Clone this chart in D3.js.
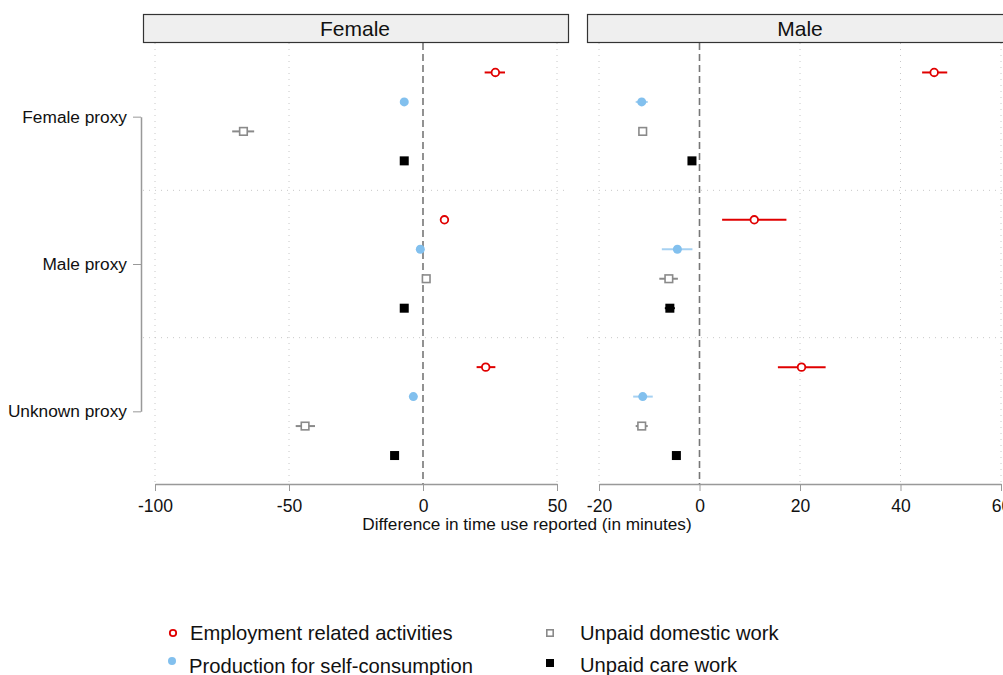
<!DOCTYPE html>
<html><head><meta charset="utf-8">
<script src="https://cdn.jsdelivr.net/npm/d3@7"></script>
<style>body{margin:0;background:#fff}svg{display:block;font-family:"Liberation Sans",Arial,sans-serif}</style>
</head><body><svg id="c" width="1003" height="675"></svg>
<script>
const panels = ["Female", "Male"];
const groups = ["Female proxy", "Male proxy", "Unknown proxy"];
const series = ["Employment related activities", "Production for self-consumption", "Unpaid domestic work", "Unpaid care work"];
const femaleTicks = [-100, -50, 0, 50];
const maleTicks = [-20, 0, 20, 40, 60];
// [estimate, lower, upper] per group, per series
const femaleValues = [
  [[27, 23, 30.6], [-7, -8.3, -5.7], [-67, -71.2, -63], [-7, -8.3, -5.7]],
  [[8, 6.6, 9.4], [-1, -1.6, -0.4], [1.2, 0.2, 2.2], [-7, -7.2, -6.8]],
  [[23.4, 20, 27], [-3.6, -4.6, -2.6], [-44, -47.5, -40.3], [-10.6, -11.6, -9.6]]
];
const maleValues = [
  [[46.7, 44.3, 49.3], [-11.5, -12.7, -10.3], [-11.3, -12, -10.6], [-1.5, -1.9, -1.1]],
  [[10.9, 4.5, 17.3], [-4.4, -7.5, -1.4], [-6.1, -8, -4.3], [-5.9, -6.9, -4.9]],
  [[20.3, 15.6, 25.1], [-11.3, -13.2, -9.3], [-11.5, -12.7, -10.3], [-4.6, -4.8, -4.4]]
];
const axisTitle = "Difference in time use reported (in minutes)";

const colors = ["#e00000", "#82c0ee", "#8a8a8a", "#000000"];
const lineColors = ["#e00000", "#a6d1f2", "#8a8a8a", "#000000"];

const svg = d3.select("#c");
const plotTop = 43, plotBottom = 485;
const y = d3.scaleLinear().domain([-1, 14]).range([plotTop, plotBottom]);
const rowIndex = (g, s) => g * 5 + s;

const panelDefs = [
  {name: panels[0], x: d3.scaleLinear().domain([-100, 50]).range([155, 557]), left: 143, right: 569, labelX: 355, ticks: femaleTicks, data: femaleValues},
  {name: panels[1], x: d3.scaleLinear().domain([-20, 60]).range([599, 1001]), left: 587, right: 1010, labelX: 800, ticks: maleTicks, data: maleValues}
];

panelDefs.forEach(p => {
  const g = svg.append("g");
  p.ticks.filter(t => t !== 0).forEach(t => {
    g.append("line").attr("x1", p.x(t)).attr("x2", p.x(t)).attr("y1", plotTop).attr("y2", plotBottom)
      .attr("stroke", "#c8c8c8").attr("stroke-width", 1).attr("stroke-dasharray", "1,5");
  });
  [4, 9].forEach(k => {
    g.append("line").attr("x1", p.left).attr("x2", p.right - 4).attr("y1", y(k)).attr("y2", y(k))
      .attr("stroke", "#c8c8c8").attr("stroke-width", 1).attr("stroke-dasharray", "1,5");
  });
  g.append("line").attr("x1", p.x(0)).attr("x2", p.x(0)).attr("y1", plotTop).attr("y2", plotBottom)
    .attr("stroke", "#777").attr("stroke-width", 1.6).attr("stroke-dasharray", "7,4");
  g.append("rect").attr("x", p.left + 0.5).attr("y", 14.5).attr("width", p.right - p.left - 1).attr("height", 28)
    .attr("fill", "#efefef").attr("stroke", "#333").attr("stroke-width", 1.2);
  g.append("text").attr("x", p.labelX)
    .attr("y", 35.5).attr("text-anchor", "middle").attr("font-size", 21).attr("fill", "#111").text(p.name);
  const ax = g.append("g").attr("transform", `translate(0,${plotBottom - 1})`)
    .call(d3.axisBottom(p.x).tickValues(p.ticks).tickSize(7).tickSizeOuter(0).tickPadding(6));
  ax.select(".domain").attr("stroke", "#999").attr("stroke-width", 1.5);
  ax.selectAll(".tick line").attr("stroke", "#999");
  ax.selectAll(".tick text").attr("font-size", 17.5).attr("fill", "#111").attr("dy", "0.85em")
    .attr("font-family", "Liberation Sans, Arial, sans-serif").text(d => d < 0 ? "-" + Math.abs(d) : d);
  p.data.forEach((grp, gi) => {
    grp.forEach((v, si) => {
      const yy = y(rowIndex(gi, si));
      g.append("line").attr("x1", p.x(v[1])).attr("x2", p.x(v[2])).attr("y1", yy).attr("y2", yy)
        .attr("stroke", lineColors[si]).attr("stroke-width", 2);
      const cx = p.x(v[0]);
      if (si === 0) {
        g.append("circle").attr("cx", cx).attr("cy", yy).attr("r", 3.8).attr("fill", "#fff")
          .attr("stroke", colors[0]).attr("stroke-width", 1.8);
      } else if (si === 1) {
        g.append("circle").attr("cx", cx).attr("cy", yy).attr("r", 4.5).attr("fill", colors[1]);
      } else if (si === 2) {
        g.append("rect").attr("x", cx - 3.8).attr("y", yy - 3.8).attr("width", 7.6).attr("height", 7.6)
          .attr("fill", "#fff").attr("stroke", colors[2]).attr("stroke-width", 1.6);
      } else {
        g.append("rect").attr("x", cx - 4.5).attr("y", yy - 4.5).attr("width", 9).attr("height", 9)
          .attr("fill", colors[3]);
      }
    });
  });
});

const yAxisScale = d3.scalePoint().domain(groups).range([y(1.5), y(11.5)]);
const ya = svg.append("g").attr("transform", "translate(141,0)")
  .call(d3.axisLeft(yAxisScale).tickSize(8).tickSizeOuter(0).tickPadding(6));
ya.select(".domain").attr("stroke", "#999").attr("stroke-width", 1.5);
ya.selectAll(".tick line").attr("stroke", "#999");
ya.selectAll(".tick text").attr("font-size", 17.3).attr("fill", "#111").attr("font-family", "Liberation Sans, Arial, sans-serif");

svg.append("text").attr("x", 527).attr("y", 530).attr("text-anchor", "middle")
  .attr("font-size", 17.2).attr("fill", "#111").text(axisTitle);

const legendPos = [[173, 633], [172, 661], [550, 633], [550, 663]];
series.forEach((s, i) => {
  const [lx, ly] = legendPos[i];
  const lg = svg.append("g");
  if (i === 0) lg.append("circle").attr("cx", lx).attr("cy", ly).attr("r", 3.2).attr("fill", "#fff").attr("stroke", colors[0]).attr("stroke-width", 1.8);
  else if (i === 1) lg.append("circle").attr("cx", lx).attr("cy", ly).attr("r", 4).attr("fill", colors[1]);
  else if (i === 2) lg.append("rect").attr("x", lx - 3.2).attr("y", ly - 3.2).attr("width", 6.4).attr("height", 6.4).attr("fill", "#fff").attr("stroke", colors[2]).attr("stroke-width", 1.6);
  else lg.append("rect").attr("x", lx - 4).attr("y", ly - 4).attr("width", 8).attr("height", 8).attr("fill", colors[3]);
  lg.append("text").attr("x", i < 2 ? lx + 17 : 580).attr("y", i === 1 ? 673 : (i === 3 ? 672 : 640))
    .attr("font-size", 20.2).attr("fill", "#111").text(s);
});
</script></body></html>
